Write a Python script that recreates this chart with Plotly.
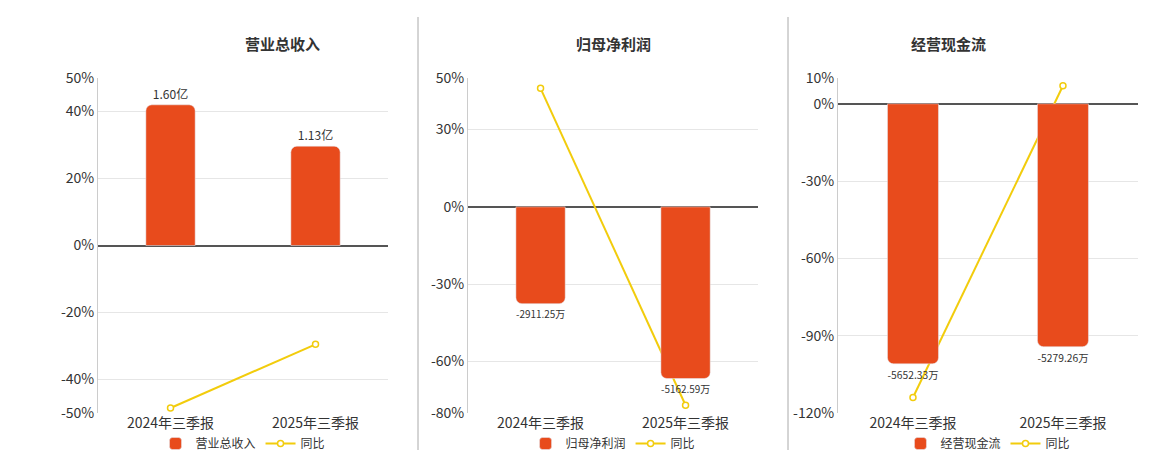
import plotly.graph_objects as go

categories = ["2024年三季报", "2025年三季报"]

titles = ["营业总收入", "归母净利润", "经营现金流"]
bar_values = [[1.60, 1.13], [-2911.25, -5162.59], [-5652.33, -5279.26]]
bar_labels = [["1.60亿", "1.13亿"], ["-2911.25万", "-5162.59万"], ["-5652.33万", "-5279.26万"]]
yoy_values = [[-48.5, -29.5], [46.0, -77.0], [-114.0, 7.0]]

pct_ranges = [[-50, 50], [-80, 50], [-120, 10]]
pct_ticks = [[-50, -40, -20, 0, 20, 40, 50], [-80, -60, -30, 0, 30, 50], [-120, -90, -60, -30, 0, 10]]
bar_scale = [1 / 26.25, 77.5, 56.0]  # bar units per percent, so zero lines up

x_domains = [[0.0776, 0.3276], [0.3966, 0.6466], [0.7155, 0.9741]]
y_domain = [0.1, 0.8444]

BAR = "#E84B1C"
LINE = "#F2CC0C"
FONT = "Noto Sans CJK SC"

fig = go.Figure()
layout = dict(
    width=1160, height=450, margin=dict(l=0, r=0, t=0, b=0, autoexpand=False),
    plot_bgcolor="white", paper_bgcolor="white",
    font=dict(family=FONT, size=13, color="#333"),
    showlegend=True, annotations=[], shapes=[],
)

for i in range(3):
    n = i + 1
    xa = "x" if n == 1 else f"x{n}"
    ya = f"y{2*n-1}" if n > 1 else "y"
    yb = f"y{2*n}"
    lg = "legend" if n == 1 else f"legend{n}"
    lo, hi = pct_ranges[i]
    s = bar_scale[i]

    fig.add_trace(go.Bar(
        x=categories, y=bar_values[i], name=titles[i], xaxis=xa, yaxis=yb,
        marker_color=BAR, width=0.34, text=bar_labels[i], textposition="outside",
        textfont=dict(size=12, color="#333"), cliponaxis=False, legend=lg,
    ))
    fig.add_trace(go.Scatter(
        x=categories, y=yoy_values[i], name="同比", xaxis=xa, yaxis=ya,
        mode="lines+markers", line=dict(color=LINE, width=2),
        marker=dict(size=6, color="white", line=dict(color=LINE, width=1.5)),
        cliponaxis=False, legend=lg,
    ))

    xkey = "xaxis" if n == 1 else f"xaxis{n}"
    yakey = "yaxis" if n == 1 else f"yaxis{2*n-1}"
    ybkey = f"yaxis{2*n}"
    layout[xkey] = dict(domain=x_domains[i], anchor=ya, showgrid=False,
                        tickfont=dict(size=14), ticks="", showline=False)
    layout[yakey] = dict(domain=y_domain, range=[lo, hi], tickvals=pct_ticks[i],
                         ticktext=[f"{t}%" for t in pct_ticks[i]], anchor=xa,
                         showgrid=True, gridcolor="#e6e6e6", zeroline=True,
                         zerolinecolor="#555", zerolinewidth=1.5,
                         tickfont=dict(size=14), showline=True, linecolor="#ccc")
    layout[ybkey] = dict(overlaying=ya, range=[lo * s, hi * s], visible=False,
                         anchor=xa)
    xc = (x_domains[i][0] + x_domains[i][1]) / 2
    layout["annotations"].append(dict(
        text=f"<b>{titles[i]}</b>", x=xc, y=0.95, xref="paper", yref="paper",
        showarrow=False, font=dict(size=15, color="#333")))
    layout[lg] = dict(orientation="h", x=xc, xanchor="center", y=0.0,
                      yanchor="bottom", font=dict(size=12), bgcolor="rgba(0,0,0,0)")

for xp in [410 / 1160, 780 / 1160]:
    layout["shapes"].append(dict(type="line", xref="paper", yref="paper",
                                 x0=xp, x1=xp, y0=0.015, y1=0.98,
                                 line=dict(color="#aaa", width=1)))

fig.update_layout(**layout, barcornerradius=6)
fig.write_html("out.html")
